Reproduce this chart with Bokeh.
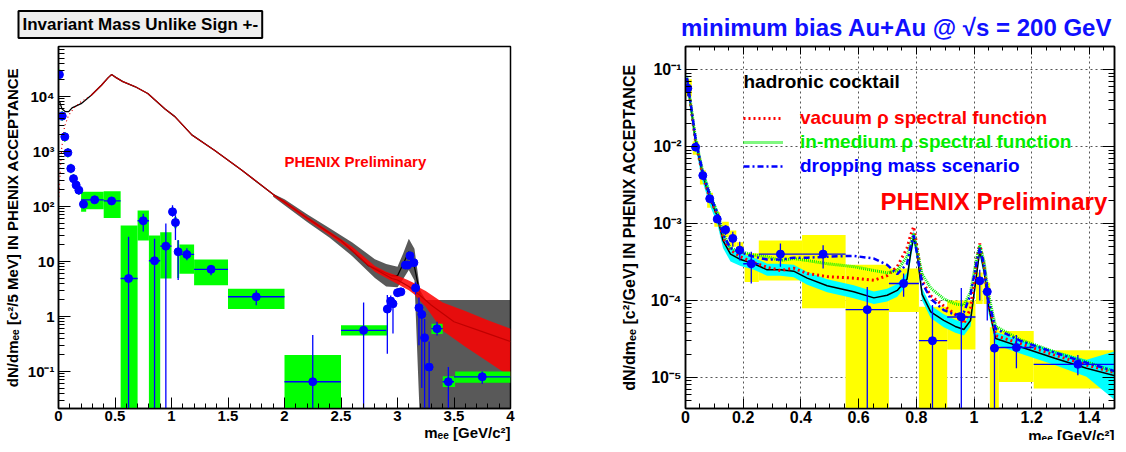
from bokeh.plotting import figure
from bokeh.layouts import row
from bokeh.models import (ColumnDataSource, Label, Title, LinearAxis, LogAxis,
                          SingleIntervalTicker, LogTicker, CustomJSTickFormatter,
                          Range1d, Legend, LegendItem)
from bokeh.core.properties import value
from bokeh.embed import file_html
from bokeh.resources import INLINE

FONT = "Liberation Sans"
BLUE = "#0000ff"

# ------------------------------------------------------------------ left panel data
# foreground (unlike sign) spectrum, black
L_black_x = [0.01, 0.03, 0.06, 0.09, 0.12, 0.2, 0.29, 0.38, 0.44, 0.47, 0.51, 0.57, 0.68,
             0.79, 0.94, 1.03, 1.18, 1.38, 1.62, 1.91, 2.0, 2.21, 2.5, 2.74, 2.95, 3.0,
             3.05, 3.1, 3.15, 3.2]
L_black = [8000, 6000, 5300, 5300, 6200, 7400, 10500, 16000, 22000, 25000, 22000, 18600,
           15000, 11300, 6000, 4300, 2000, 1050, 460, 160, 120, 60, 24, 8.5, 5.5, 5.5,
           9, 15, 8, 2.5]
# combinatorial background, red (dotted at low mass)
L_red_low_x = [0.003, 0.027, 0.053, 0.088, 0.14, 0.2, 0.29]
L_red_low = [150, 1100, 2800, 4500, 6300, 8000, 10500]
L_red_x = [0.29, 0.38, 0.44, 0.47, 0.51, 0.57, 0.68, 0.79, 0.94, 1.03, 1.18, 1.38, 1.62,
           1.91, 2.0, 2.21, 2.5, 2.74, 2.95, 3.0, 3.1, 3.2, 3.3, 3.5, 3.75, 4.0]
L_red = [10500, 16000, 22000, 25000, 22000, 18600, 15000, 11300, 6000, 4300, 2000, 1050,
         460, 160, 120, 60, 24, 8.5, 4.9, 4.6, 3.5, 2.4, 1.6, 0.8, 0.53, 0.35]
# fluctuation envelopes at high mass
L_noise_x = [1.9, 2.0, 2.2, 2.4, 2.6, 2.8, 2.9, 3.0, 3.05, 3.1, 3.15, 3.2, 3.25, 3.4, 3.6,
             3.8, 4.0]
L_black_lo = [150, 105, 52, 27, 12.5, 5, 3.5, 3.4, 4.8, 7, 4.5, 0.01, 0.01, 0.01, 0.01,
              0.01, 0.01]
L_black_hi = [170, 135, 72, 40, 22, 11, 9, 8, 14, 26, 17, 3.0, 2.0, 2.0, 2.0, 2.0, 2.0]
L_red_lo = [155, 112, 57, 30, 15, 6.5, 5, 3.9, 3.4, 3.0, 2.5, 1.9, 1.5, 0.55, 0.28, 0.15,
            0.08]
L_red_hi = [165, 128, 66, 35, 18.5, 8.3, 6.5, 5.5, 5.0, 4.5, 4.0, 3.3, 2.9, 1.8, 1.25,
            0.85, 0.6]

# subtracted signal points
L_x = [0.008, 0.033, 0.056, 0.083, 0.109, 0.133, 0.156, 0.18, 0.221, 0.32, 0.47, 0.62,
       0.75, 0.85, 0.95, 1.009, 1.035, 1.059, 1.136, 1.35, 1.75, 2.25, 2.70, 2.91, 2.94,
       2.96, 3.0, 3.03, 3.07, 3.09, 3.11, 3.145, 3.16, 3.19, 3.215, 3.24, 3.28, 3.35,
       3.45, 3.75]
L_y = [25000, 4400, 1850, 950, 490, 320, 245, 198, 110, 132, 126, 4.9, 55, 10.3, 19, 80,
       51, 15, 13.4, 7.2, 2.28, 0.065, 0.56, 1.36, 1.9, 1.7, 2.7, 2.8, 8.6, 8.6, 12.7,
       9.5, 3.3, 1.44, 1.09, 0.41, 0.12, 0.6, 0.065, 0.08]
L_xlo = [0.0, 0.025, 0.05, 0.075, 0.1, 0.125, 0.15, 0.175, 0.2, 0.2, 0.4, 0.55, 0.70, 0.80,
         0.90, 1.0, 1.02, 1.05, 1.07, 1.2, 1.5, 2.0, 2.5, 2.9, 2.925, 2.95, 2.985, 3.015,
         3.055, 3.08, 3.1, 3.13, 3.155, 3.18, 3.205, 3.23, 3.27, 3.3, 3.4, 3.5]
L_xhi = [0.02, 0.04, 0.065, 0.09, 0.12, 0.14, 0.165, 0.19, 0.24, 0.4, 0.55, 0.70, 0.80,
         0.90, 1.0, 1.02, 1.05, 1.07, 1.2, 1.5, 2.0, 2.5, 2.9, 2.925, 2.95, 2.975, 3.015,
         3.045, 3.08, 3.1, 3.12, 3.155, 3.17, 3.2, 3.225, 3.25, 3.29, 3.4, 3.5, 4.0]
L_elo = [22000, 4000, 1700, 870, 450, 295, 225, 182, 98, 117, 110, 0.01, 35, 0.01, 0.01,
         65, 24.5, 4.6, 10.5, 5.6, 1.6, 0.01, 0.01, 0.21, 1.5, 0.49, 2.3, 2.4, 7.3, 7.3,
         11, 8, 2.5, 0.3, 0.05, 0.01, 0.01, 0.45, 0.01, 0.06]
L_ehi = [28000, 4800, 2000, 1040, 530, 345, 265, 214, 123, 150, 145, 28, 74, 26, 49, 105,
         69, 24.5, 17.3, 8.6, 3.0, 0.46, 1.8, 2.45, 2.4, 2.2, 3.2, 3.3, 10, 10, 14.5, 11,
         4.2, 2.2, 1.6, 0.9, 0.35, 0.8, 0.12, 0.1]
# systematic boxes
L_bxlo = [0.0, 0.026, 0.049, 0.076, 0.102, 0.126, 0.149, 0.173, 0.2, 0.2, 0.4, 0.55, 0.70,
          0.80, 0.90, 1.0, 1.025, 1.05, 1.07, 1.2, 1.5, 2.0, 2.5, 2.9, 2.93, 2.95, 2.99,
          3.02, 3.06, 3.08, 3.1, 3.135, 3.155, 3.18, 3.205, 3.23, 3.27, 3.3, 3.4, 3.51]
L_bxhi = [0.016, 0.04, 0.063, 0.09, 0.116, 0.14, 0.163, 0.187, 0.245, 0.4, 0.55, 0.70, 0.80,
          0.90, 1.0, 1.018, 1.045, 1.068, 1.2, 1.5, 2.0, 2.5, 2.91, 2.92, 2.95, 2.97, 3.01,
          3.04, 3.08, 3.1, 3.12, 3.155, 3.17, 3.2, 3.225, 3.25, 3.29, 3.4, 3.51, 4.0]
L_blo = [20000, 3600, 1500, 780, 400, 265, 200, 163, 80, 89, 62, 0.01, 24, 0.01, 4.9, 68,
         40, 5, 6.0, 3.7, 1.36, 0.01, 0.45, 1.15, 1.6, 1.45, 2.3, 2.4, 7.3, 7.3, 10.8, 8,
         2.8, 1.2, 0.92, 0.35, 0.1, 0.48, 0.052, 0.062]
L_bhi = [31000, 5400, 2250, 1160, 600, 390, 300, 240, 140, 185, 190, 45, 84, 29.5, 34, 95,
         64, 24, 20.4, 10.9, 3.2, 0.2, 0.69, 1.6, 2.25, 2.0, 3.2, 3.3, 10, 10, 15, 11.2,
         3.9, 1.7, 1.3, 0.48, 0.145, 0.74, 0.082, 0.10]

# ------------------------------------------------------------------ right panel data
R_cx = [0.005, 0.02, 0.035, 0.06, 0.085, 0.11, 0.13, 0.156, 0.191, 0.237, 0.283, 0.329,
        0.375, 0.422, 0.491, 0.583, 0.653, 0.699, 0.734, 0.768, 0.78, 0.791, 0.803, 0.82,
        0.85, 0.895, 0.935, 0.965, 0.988, 1.009, 1.02, 1.035, 1.05, 1.075, 1.16, 1.28,
        1.39, 1.49]
R_cocktail = [0.075, 0.03, 0.0115, 0.0042, 0.0021, 0.00125, 0.0006, 0.0004, 0.00034,
              0.0003, 0.00025, 0.00025, 0.00024, 0.000195, 0.000155, 0.00013, 0.000108,
              0.000117, 0.000135, 0.00019, 0.0004, 0.00068, 0.0004, 0.00012, 7.1e-5,
              5.5e-5, 4.6e-5, 4.2e-5, 5.5e-5, 0.00022, 0.00045, 0.00024, 8.5e-5, 3.2e-5,
              2.5e-5, 1.78e-5, 1.32e-5, 1.05e-5]
R_cock_lo = [0.06, 0.024, 0.0094, 0.0034, 0.0017, 0.001, 0.00048, 0.00032, 0.00028,
             0.00025, 0.00021, 0.00021, 0.0002, 0.00016, 0.000128, 0.000107, 9.0e-5,
             9.7e-5, 0.000112, 0.00016, 0.00033, 0.00057, 0.00033, 0.0001, 5.9e-5, 4.5e-5,
             3.8e-5, 3.5e-5, 4.6e-5, 0.00018, 0.00038, 0.0002, 7.0e-5, 2.65e-5, 2.05e-5,
             1.45e-5, 1.02e-5, 5.0e-6]
R_cock_hi = [0.09, 0.036, 0.014, 0.0051, 0.0026, 0.0015, 0.00073, 0.00049, 0.00041,
             0.00036, 0.0003, 0.0003, 0.00029, 0.000235, 0.000188, 0.000158, 0.000131,
             0.000142, 0.000163, 0.00023, 0.00048, 0.00081, 0.00048, 0.000145, 8.6e-5,
             6.6e-5, 5.6e-5, 5.1e-5, 6.6e-5, 0.00026, 0.00054, 0.00029, 0.000103, 3.9e-5,
             3.05e-5, 2.2e-5, 1.7e-5, 2.2e-5]
R_vacuum = [0.075, 0.03, 0.0115, 0.0042, 0.0021, 0.0013, 0.00066, 0.00045, 0.00037,
            0.00031, 0.00027, 0.000245, 0.000262, 0.000224, 0.000204, 0.000195, 0.000183,
            0.00021, 0.000275, 0.00048, 0.0007, 0.00091, 0.00048, 0.00018, 0.000115,
            8.5e-5, 6.6e-5, 5.0e-5, 7.9e-5, 0.00032, 0.00055, 0.00028, 0.0001, 3.5e-5,
            2.75e-5, 1.95e-5, 1.45e-5, 1.15e-5]
R_medium = [0.078, 0.032, 0.0125, 0.0047, 0.0024, 0.0014, 0.00075, 0.00048, 0.00043,
            0.00039, 0.00037, 0.00033, 0.00035, 0.00033, 0.0003, 0.000275, 0.000245,
            0.000228, 0.000245, 0.00037, 0.00055, 0.00074, 0.00045, 0.00022, 0.000145,
            0.000105, 9.0e-5, 8.7e-5, 0.000129, 0.00035, 0.00052, 0.00032, 0.00012, 4.6e-5,
            3.1e-5, 2.15e-5, 1.6e-5, 1.18e-5]
R_dropping = [0.078, 0.032, 0.0125, 0.0046, 0.0023, 0.0014, 0.00072, 0.00048, 0.00042,
              0.00037, 0.00034, 0.00034, 0.00036, 0.00036, 0.00037, 0.00038, 0.00035,
              0.00029, 0.00022, 0.0003, 0.0005, 0.0007, 0.0004, 0.00017, 0.000105, 7.5e-5,
              6.5e-5, 7.0e-5, 0.00012, 0.00031, 0.00048, 0.00029, 0.0001, 4.3e-5, 3.0e-5,
              2.1e-5, 1.55e-5, 1.2e-5]

R_x = [0.008, 0.035, 0.06, 0.084, 0.11, 0.139, 0.164, 0.188, 0.228, 0.329, 0.477, 0.63,
       0.756, 0.856, 0.956, 1.02, 1.046, 1.071, 1.147, 1.36]
R_y = [0.057, 0.0098, 0.0042, 0.0021, 0.00114, 0.00083, 0.00064, 0.00045, 0.0003, 0.0004,
       0.0004, 7.6e-5, 1.66e-4, 3.0e-5, 6.1e-5, 1.8e-4, 1.3e-4, 2.4e-5, 2.45e-5, 1.48e-5]
R_xlo = [0.0, 0.025, 0.05, 0.075, 0.1, 0.125, 0.15, 0.175, 0.2, 0.254, 0.404, 0.555, 0.705,
         0.809, 0.907, 1.01, 1.03, 1.06, 1.08, 1.207]
R_xhi = [0.02, 0.045, 0.07, 0.095, 0.12, 0.15, 0.175, 0.2, 0.254, 0.404, 0.555, 0.705,
         0.809, 0.907, 1.005, 1.03, 1.055, 1.085, 1.207, 1.5]
R_elo = [0.045, 0.0088, 0.0038, 0.0019, 0.00103, 0.00071, 0.0005, 0.00033, 0.000166,
         0.000275, 0.00026, 1e-6, 0.000112, 1e-6, 1e-6, 0.0001, 5.5e-5, 1e-6, 1.32e-5,
         1.07e-5]
R_ehi = [0.07, 0.0108, 0.0046, 0.0023, 0.00125, 0.00095, 0.00078, 0.00058, 0.00043,
         0.00055, 0.00052, 0.00015, 0.000224, 8.7e-5, 0.000145, 0.00025, 0.000174, 4.8e-5,
         3.55e-5, 1.95e-5]
R_bxlo = [0.0, 0.025, 0.05, 0.075, 0.1, 0.127, 0.152, 0.177, 0.205, 0.254, 0.404, 0.555,
          0.705, 0.809, 0.907, 1.007, 1.033, 1.055, 1.086, 1.207]
R_bxhi = [0.022, 0.045, 0.07, 0.095, 0.12, 0.15, 0.176, 0.2, 0.254, 0.404, 0.555, 0.705,
          0.809, 0.907, 1.005, 1.03, 1.056, 1.086, 1.207, 1.5]
R_blo = [0.045, 0.0078, 0.0032, 0.0016, 0.00091, 0.00066, 0.0005, 0.00035, 0.000174,
         0.000182, 7.9e-5, 1e-6, 7.1e-5, 1e-6, 2.3e-5, 9e-5, 9e-5, 1e-6, 8.7e-6, 7.2e-6]
R_bhi = [0.075, 0.0117, 0.0049, 0.0025, 0.0014, 0.00105, 0.00081, 0.00057, 0.00041, 0.0006,
         0.00071, 0.00029, 0.00026, 8.3e-5, 0.0001, 0.00023, 0.00017, 4.5e-5, 4.0e-5,
         2.25e-5]

# ------------------------------------------------------------------ helpers
pow_fmt = CustomJSTickFormatter(code="""
const e = Math.round(Math.log10(tick));
if (Math.abs(tick / Math.pow(10, e) - 1) > 1e-6) { return ""; }
if (e == 0) { return "1"; }
if (e == 1) { return "10"; }
const m = {"-": "\u207b", "0": "\u2070", "1": "\u00b9", "2": "\u00b2", "3": "\u00b3",
           "4": "\u2074", "5": "\u2075", "6": "\u2076", "7": "\u2077", "8": "\u2078",
           "9": "\u2079"};
return "10" + String(e).split("").map(c => m[c]).join("");
""")
num_fmt = CustomJSTickFormatter(code="return String(Number(tick.toFixed(2)));")
blank_fmt = CustomJSTickFormatter(code="return '';")


def style_axis(ax, size, tick_major=11, tick_minor=6):
    ax.major_tick_in = tick_major
    ax.major_tick_out = 0
    ax.minor_tick_in = tick_minor
    ax.minor_tick_out = 0
    ax.major_tick_line_color = "black"
    ax.minor_tick_line_color = "black"
    ax.axis_line_color = "black"
    ax.axis_line_width = 1.5
    ax.major_label_text_font = FONT
    ax.major_label_text_font_style = "bold"
    ax.major_label_text_font_size = size
    ax.major_label_text_color = "black"
    ax.major_label_standoff = 4
    ax.axis_label_text_font = FONT
    ax.axis_label_text_font_style = "bold"
    ax.axis_label_text_color = "black"


def xlabel(text, size, standoff, valign="bottom"):
    return Title(text=text, align="right", text_font=FONT, text_font_style="bold",
                 text_font_size=size, text_color="black", standoff=standoff, offset=0,
                 vertical_align=valign)


# ------------------------------------------------------------------ left figure
pL = figure(frame_width=452, frame_height=362, x_range=Range1d(0, 4),
            y_range=Range1d(0.0212, 8.1e4), y_axis_type="log",
            output_backend="svg", toolbar_location=None,
            min_border_left=49, min_border_right=106, min_border_top=38,
            min_border_bottom=34)
pL.grid.visible = False
pL.outline_line_color = "black"
pL.outline_line_width = 1.5
pL.title = Title(text="Invariant Mass Unlike Sign +-", align="left", offset=-40,
                 text_font=FONT, text_font_style="bold", text_font_size="17px",
                 text_color="black", background_fill_color="#eeeeee",
                 border_line_color="black", border_line_width=2, padding=4,
                 standoff=17)

pL.xaxis.ticker = SingleIntervalTicker(interval=0.5, num_minor_ticks=5)
pL.xaxis.formatter = num_fmt
pL.yaxis.ticker = LogTicker(desired_num_ticks=8, num_minor_ticks=10)
pL.yaxis.formatter = pow_fmt
style_axis(pL.xaxis[0], "15px", 11, 5)
style_axis(pL.yaxis[0], "15px", 12, 6)
pL.xaxis.major_label_standoff = 2
pL.yaxis.axis_label = "dN/dm\u2091\u2091 [c\u00b2/5 MeV] IN PHENIX ACCEPTANCE"
pL.yaxis.axis_label_text_font_size = "15px"
pL.yaxis.axis_label_standoff = 4
pL.add_layout(xlabel("m\u2091\u2091 [GeV/c\u00b2]", "15px", -3), "below")

pL.varea(x=L_noise_x, y1=L_black_lo, y2=L_black_hi, fill_color="black", fill_alpha=0.65)
pL.line(L_black_x, L_black, line_color="black", line_width=1.3)
pL.varea(x=L_noise_x, y1=L_red_lo, y2=L_red_hi, fill_color="#ff0000", fill_alpha=0.85)
pL.line(L_red_low_x, L_red_low, line_color="#dd0000", line_width=1.2, line_dash="1 3")
pL.line(L_red_x, L_red, line_color="#c00000", line_width=1.2)

srcL = ColumnDataSource(dict(x=L_x, y=L_y, xlo=L_xlo, xhi=L_xhi, elo=L_elo, ehi=L_ehi,
                             bxlo=L_bxlo, bxhi=L_bxhi, blo=L_blo, bhi=L_bhi))
pL.quad(left="bxlo", right="bxhi", bottom="blo", top="bhi", source=srcL,
        fill_color="#00ff00", line_color=None)
pL.segment(x0="xlo", y0="y", x1="xhi", y1="y", source=srcL, line_color=BLUE, line_width=1.3)
pL.segment(x0="x", y0="elo", x1="x", y1="ehi", source=srcL, line_color=BLUE, line_width=1.3)
pL.scatter("x", "y", source=srcL, size=8, fill_color=BLUE, line_color=BLUE)

pL.add_layout(Label(x=2.0, y=660, text="PHENIX Preliminary", text_align="left",
                    text_baseline="middle", text_font=FONT, text_font_style="bold",
                    text_font_size="15px", text_color="#ff0000"))

# ------------------------------------------------------------------ right figure
pR = figure(frame_width=429, frame_height=362, x_range=Range1d(0, 1.487),
            y_range=Range1d(3.95e-6, 0.199), y_axis_type="log",
            output_backend="svg", toolbar_location=None,
            min_border_left=69, min_border_right=4, min_border_top=38,
            min_border_bottom=34)
pR.outline_line_color = "black"
pR.outline_line_width = 1.5
pR.title = Title(text="minimum bias Au+Au  @ \u221as = 200 GeV", align="center",
                 text_font=FONT, text_font_style="bold", text_font_size="24px",
                 text_color="#1010ff", standoff=11)

pR.xaxis.ticker = SingleIntervalTicker(interval=0.2, num_minor_ticks=4)
pR.xaxis.formatter = num_fmt
pR.yaxis.ticker = LogTicker(desired_num_ticks=6, num_minor_ticks=10)
pR.yaxis.formatter = pow_fmt
style_axis(pR.xaxis[0], "16px", 10, 5)
style_axis(pR.yaxis[0], "16px", 12, 6)
pR.xaxis.major_label_standoff = 2
pR.yaxis.axis_label = "dN/dm\u2091\u2091 [c\u00b2/GeV] IN PHENIX ACCEPTANCE"
pR.yaxis.axis_label_text_font_size = "16px"
pR.yaxis.axis_label_standoff = 10
pR.add_layout(xlabel("m\u2091\u2091 [GeV/c\u00b2]", "15px", 2, "top"), "below")

top_ax = LinearAxis(ticker=SingleIntervalTicker(interval=0.2, num_minor_ticks=4),
                    formatter=blank_fmt)
style_axis(top_ax, "10px", 8, 4)
top_ax.major_label_text_color = None
top_ax.major_label_standoff = 0
pR.add_layout(top_ax, "above")
right_ax = LogAxis(ticker=LogTicker(desired_num_ticks=6, num_minor_ticks=10),
                   formatter=blank_fmt)
style_axis(right_ax, "10px", 12, 6)
right_ax.major_label_text_color = None
right_ax.major_label_standoff = 0
pR.add_layout(right_ax, "right")

for g in (pR.xgrid[0], pR.ygrid[0]):
    g.grid_line_color = "#555555"
    g.grid_line_dash = "2 3"
    g.grid_line_width = 1

srcR = ColumnDataSource(dict(x=R_x, y=R_y, xlo=R_xlo, xhi=R_xhi, elo=R_elo, ehi=R_ehi,
                             bxlo=R_bxlo, bxhi=R_bxhi, blo=R_blo, bhi=R_bhi))
pR.quad(left="bxlo", right="bxhi", bottom="blo", top="bhi", source=srcR,
        fill_color="#ffff00", line_color=None)
pR.varea(x=R_cx, y1=R_cock_lo, y2=R_cock_hi, fill_color="#00ffff")
pR.line(R_cx, R_cocktail, line_color="black", line_width=1.5)
r_vac = pR.line(R_cx, R_vacuum, line_color="#ff0000", line_width=3, line_dash="2 3")
r_med = pR.line(R_cx, R_medium, line_color="#00ee00", line_width=3, line_dash="1 1")
r_drop = pR.line(R_cx, R_dropping, line_color="#0000ff", line_width=2.5,
                 line_dash="6 3 2 3")
pR.segment(x0="xlo", y0="y", x1="xhi", y1="y", source=srcR, line_color=BLUE, line_width=1.3)
pR.segment(x0="x", y0="elo", x1="x", y1="ehi", source=srcR, line_color=BLUE, line_width=1.3)
pR.scatter("x", "y", source=srcR, size=8, fill_color=BLUE, line_color=BLUE)

pR.add_layout(Label(x=0.201, y=0.0698, text="hadronic cocktail", text_align="left",
                    text_baseline="middle", text_font=FONT, text_font_style="bold",
                    text_font_size="19px", text_color="black"))
for rend, txt, col, ypos in [(r_vac, "vacuum \u03c1 spectral function", "#ff0000", 279),
                             (r_med, "in-medium \u03c1 spectral function", "#00ee00", 255),
                             (r_drop, "dropping mass scenario", "#0000ff", 231)]:
    leg = Legend(items=[LegendItem(label=value(txt), renderers=[rend])],
                 location=(58, ypos), border_line_color=None, background_fill_alpha=0,
                 padding=0, margin=0, spacing=0, glyph_width=40, glyph_height=16,
                 label_standoff=17, label_text_font=FONT, label_text_font_style="bold",
                 label_text_font_size="19px", label_text_color=col)
    pR.add_layout(leg)

pR.add_layout(Label(x=0.676, y=0.00194, text="PHENIX Preliminary", text_align="left",
                    text_baseline="middle", text_font=FONT, text_font_style="bold",
                    text_font_size="24px", text_color="#ff0000"))

layout = row(pL, pR)
open("out.html", "w").write(file_html(layout, INLINE))
